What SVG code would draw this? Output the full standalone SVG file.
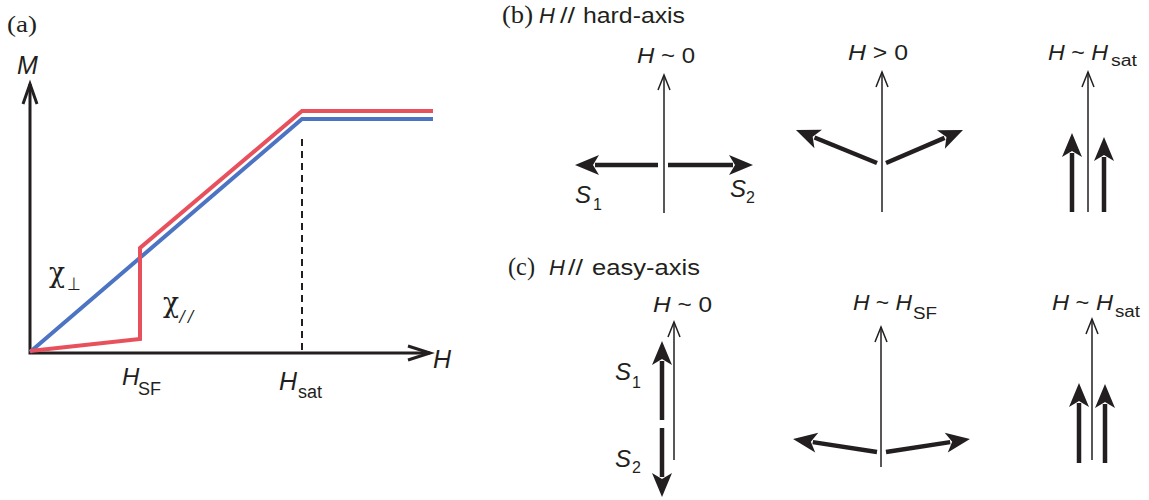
<svg xmlns="http://www.w3.org/2000/svg" width="1149" height="500" viewBox="0 0 1149 500">
<defs>
<style>
.bg{fill:#ffffff}
.ax{stroke:#231f20;stroke-width:3;fill:none}
.chev{stroke:#231f20;stroke-width:3;fill:none;stroke-linejoin:miter}
.blue{stroke:#4d74c2;stroke-width:4;fill:none;stroke-linejoin:miter}
.red{stroke:#e8505c;stroke-width:4;fill:none;stroke-linejoin:miter}
.dash{stroke:#231f20;stroke-width:2;stroke-dasharray:7,5;fill:none}
.thin{stroke:#231f20;stroke-width:1.5;fill:none;marker-end:url(#open)}
.thick{stroke:#231f20;stroke-width:4.5;fill:none;marker-end:url(#solid)}
.sans{font-family:"Liberation Sans",Arial,sans-serif;fill:#231f20}
.serif{font-family:"Liberation Serif","Times New Roman",serif;fill:#231f20}
.chi{font-family:"DejaVu Serif",serif;fill:#231f20;font-size:27px}
.light{font-family:"DejaVu Sans",sans-serif;font-weight:200;fill:#231f20}
.it{font-style:italic}
.lbl{font-size:22px}
.sub{font-size:16px}
</style>
<marker id="open" markerUnits="userSpaceOnUse" markerWidth="20" markerHeight="20" refX="0" refY="0" orient="auto" overflow="visible">
<path d="M-15,-6 L0,0 L-15,6" fill="none" stroke="#231f20" stroke-width="1.5"/>
</marker>
<marker id="solid" markerUnits="userSpaceOnUse" markerWidth="30" markerHeight="30" refX="0" refY="0" orient="auto" overflow="visible">
<path d="M20,0 L-4,-10 L2,0 L-4,10 Z" fill="#231f20"/>
</marker>
</defs>
<rect class="bg" x="0" y="0" width="1149" height="500"/>

<g id="panel-a">
<text class="serif" x="7" y="32" font-size="24" textLength="30" lengthAdjust="spacingAndGlyphs">(a)</text>
<g id="axes">
<polyline class="ax" points="30,84 30,353 430,353"/>
<polyline class="chev" points="23,104 30,84 37,104"/>
<polyline class="chev" points="408,346 430,353 408,360"/>
<text class="sans it" x="17" y="74" font-size="25">M</text>
<text class="sans it" x="433" y="368" font-size="25">H</text>
</g>
<g id="curves">
<polyline class="blue" points="30,352 302,119 433,119"/>
<polyline class="red" points="30,351 140,339 140,248 302,111 433,111"/>
<line class="dash" x1="302" y1="139" x2="302" y2="352"/>
</g>
<g id="labels-a">
<text class="chi" x="49" y="282" textLength="16" lengthAdjust="spacingAndGlyphs">χ</text>
<text class="light" x="67" y="290" font-size="18" textLength="14" lengthAdjust="spacingAndGlyphs">⊥</text>
<text class="chi" x="163" y="312" textLength="16" lengthAdjust="spacingAndGlyphs">χ</text>
<text class="light" x="178" y="322" font-size="16" textLength="17" lengthAdjust="spacingAndGlyphs">//</text>
<text class="sans it" x="122" y="385" font-size="24">H</text>
<text class="sans" x="138" y="395" font-size="18">SF</text>
<text class="sans it" x="279" y="390" font-size="25">H</text>
<text class="sans" x="298" y="398" font-size="18">sat</text>
</g>
</g>

<g id="panel-b">
<text class="serif" x="502" y="23" font-size="25" textLength="31" lengthAdjust="spacingAndGlyphs">(b)</text>
<text class="sans it" x="539" y="23" font-size="22">H</text>
<text class="sans" x="560" y="23" font-size="22" textLength="15" lengthAdjust="spacingAndGlyphs">//</text>
<text class="sans" x="583" y="23" font-size="22" textLength="102" lengthAdjust="spacingAndGlyphs">hard-axis</text>

<g id="b1">
<text class="sans lbl" x="637" y="63" textLength="58" lengthAdjust="spacingAndGlyphs"><tspan class="it">H</tspan> ~ 0</text>
<line class="thin" x1="664" y1="213" x2="664" y2="75"/>
<line class="thick" x1="658" y1="165" x2="595" y2="165"/>
<line class="thick" x1="668" y1="165" x2="733" y2="165"/>
<text class="sans it" x="575" y="203" font-size="24">S</text>
<text class="sans sub" x="593" y="210">1</text>
<text class="sans it" x="730" y="197" font-size="24">S</text>
<text class="sans sub" x="746" y="203">2</text>
</g>

<g id="b2">
<text class="sans lbl" x="848" y="60" textLength="60" lengthAdjust="spacingAndGlyphs"><tspan class="it">H</tspan> &gt; 0</text>
<line class="thin" x1="882" y1="212" x2="882" y2="72"/>
<line class="thick" x1="877" y1="163" x2="814.5" y2="137.5"/>
<line class="thick" x1="886" y1="163" x2="944.6" y2="137.9"/>
</g>

<g id="b3">
<text class="sans lbl" x="1048" y="60" textLength="60" lengthAdjust="spacingAndGlyphs"><tspan class="it">H</tspan> ~ <tspan class="it">H</tspan></text>
<text class="sans sub" x="1111" y="66" textLength="26" lengthAdjust="spacingAndGlyphs">sat</text>
<line class="thin" x1="1088" y1="212" x2="1088" y2="72"/>
<line class="thick" x1="1072" y1="212" x2="1072" y2="153"/>
<line class="thick" x1="1104" y1="212" x2="1104" y2="157"/>
</g>
</g>

<g id="panel-c">
<text class="serif" x="508" y="275" font-size="25" textLength="27" lengthAdjust="spacingAndGlyphs">(c)</text>
<text class="sans it" x="549" y="275" font-size="22">H</text>
<text class="sans" x="568" y="275" font-size="22" textLength="15" lengthAdjust="spacingAndGlyphs">//</text>
<text class="sans" x="592" y="275" font-size="22" textLength="108" lengthAdjust="spacingAndGlyphs">easy-axis</text>

<g id="c1">
<text class="sans lbl" x="653" y="312" textLength="59" lengthAdjust="spacingAndGlyphs"><tspan class="it">H</tspan> ~ 0</text>
<line class="thin" x1="674" y1="460" x2="674" y2="322"/>
<line class="thick" x1="662" y1="420" x2="662" y2="361"/>
<line class="thick" x1="662" y1="428" x2="662" y2="477"/>
<text class="sans it" x="615" y="380" font-size="24">S</text>
<text class="sans sub" x="632" y="388">1</text>
<text class="sans it" x="615" y="467" font-size="24">S</text>
<text class="sans sub" x="632" y="473">2</text>
</g>

<g id="c2">
<text class="sans lbl" x="853" y="310" textLength="59" lengthAdjust="spacingAndGlyphs"><tspan class="it">H</tspan> ~ <tspan class="it">H</tspan></text>
<text class="sans sub" x="913" y="319" textLength="24" lengthAdjust="spacingAndGlyphs">SF</text>
<line class="thin" x1="881" y1="467" x2="881" y2="327"/>
<line class="thick" x1="877" y1="452" x2="812.8" y2="442.1"/>
<line class="thick" x1="886" y1="452" x2="950.2" y2="442.1"/>
</g>

<g id="c3">
<text class="sans lbl" x="1052" y="310" textLength="61" lengthAdjust="spacingAndGlyphs"><tspan class="it">H</tspan> ~ <tspan class="it">H</tspan></text>
<text class="sans sub" x="1115" y="317" textLength="25" lengthAdjust="spacingAndGlyphs">sat</text>
<line class="thin" x1="1092" y1="460" x2="1092" y2="319"/>
<line class="thick" x1="1079" y1="463" x2="1079" y2="403"/>
<line class="thick" x1="1105" y1="463" x2="1105" y2="404"/>
</g>
</g>
</svg>
